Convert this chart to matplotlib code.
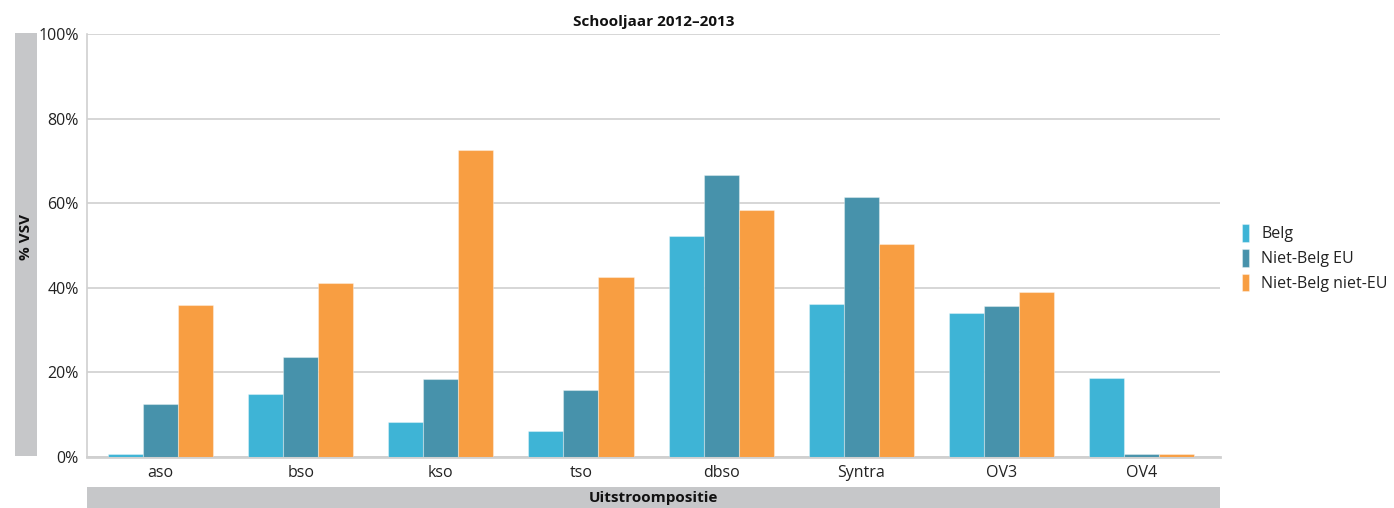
import matplotlib
matplotlib.use("Agg")
import matplotlib.pyplot as plt
import numpy as np
from matplotlib.patches import Rectangle

plt.rcParams['font.family'] = ['Open Sans', 'DejaVu Sans']

categories = ["aso", "bso", "kso", "tso", "dbso", "Syntra", "OV3", "OV4"]
series_names = ["Belg", "Niet-Belg EU", "Niet-Belg niet-EU"]
belg = [0.7, 14.9, 8.3, 6.1, 52.2, 36.2, 34.0, 18.7]
niet_belg_eu = [12.5, 23.6, 18.4, 15.8, 66.7, 61.5, 35.7, 0.7]
niet_belg_niet_eu = [35.9, 41.1, 72.6, 42.6, 58.4, 50.4, 39.0, 0.7]
y_ticks = [0, 20, 40, 60, 80, 100]
y_tick_labels = ["0%", "20%", "40%", "60%", "80%", "100%"]

colors = ["#3EB4D6", "#4792AB", "#F89E42"]

fig = plt.figure(figsize=(13.94, 5.08), dpi=100)
ax = fig.add_axes([87/1394, 51/508, (1220-87)/1394, (457-34)/508])

x = np.arange(len(categories))
w = 0.25
for i, (vals, name) in enumerate(zip([belg, niet_belg_eu, niet_belg_niet_eu], series_names)):
    ax.bar(x + (i - 1) * w, vals, w, color=colors[i], label=name,
           edgecolor=(1, 1, 1, 0.35), linewidth=0.8, zorder=3)

ax.set_xlim(-0.5246, 7.56)
ax.set_ylim(0, 100)
ax.set_yticks(y_ticks)
ax.set_yticklabels(y_tick_labels, fontsize=11.5, color="#222222")
ax.set_xticks(x)
ax.set_xticklabels(categories, fontsize=11.5, color="#222222")
ax.tick_params(axis='both', length=0)
ax.tick_params(axis='y', pad=6)
ax.tick_params(axis='x', pad=6)
ax.grid(axis='y', color="#D0D0D0", linewidth=1.2, zorder=0)
for s in ["top", "right"]:
    ax.spines[s].set_visible(False)
ax.spines["left"].set_color("#D0D0D0")
ax.spines["bottom"].set_color("#D0D0D0")
ax.spines["left"].set_linewidth(1.2)
ax.spines["bottom"].set_linewidth(2)

ax.set_title("Schooljaar 2012–2013", fontsize=11, fontweight="bold", pad=6, color="#111111")

# gray label bands
fig.patches.append(Rectangle((15/1394, 52/508), 22/1394, 423/508, transform=fig.transFigure,
                             facecolor="#C6C7C9", edgecolor="none", zorder=0))
fig.patches.append(Rectangle((87/1394, 0), (1220-87)/1394, 21/508, transform=fig.transFigure,
                             facecolor="#C6C7C9", edgecolor="none", zorder=0))
fig.text(26/1394, 271/508, "% VSV", rotation=90, ha="center", va="center",
         fontsize=11, fontweight="bold", color="#111111")
fig.text((87+1220)/2/1394, 10/508, "Uitstroompositie", ha="center", va="center",
         fontsize=11, fontweight="bold", color="#111111")

leg = ax.legend(loc="center left", bbox_to_anchor=(1.007, 0.47), frameon=False,
                fontsize=11.5, handlelength=0.45, handleheight=1.3, handletextpad=0.75,
                labelspacing=0.42)
for t in leg.get_texts():
    t.set_color("#222222")

fig.savefig("out.png", dpi=100)
